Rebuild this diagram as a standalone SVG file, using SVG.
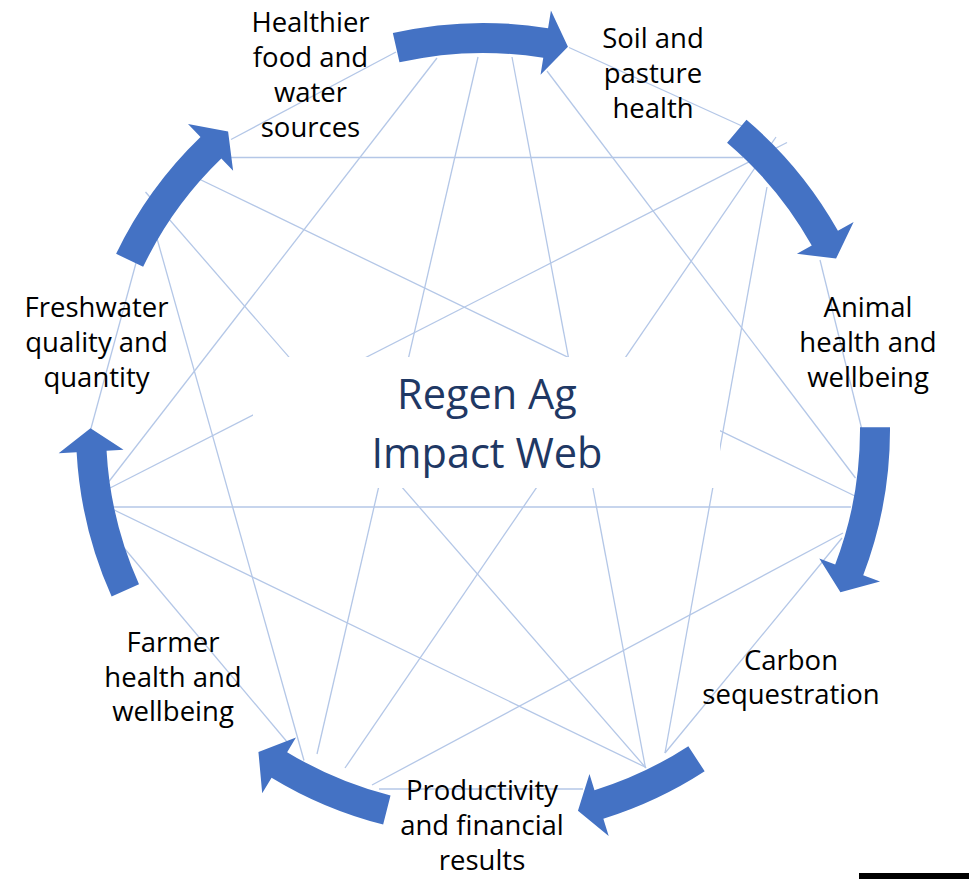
<svg xmlns="http://www.w3.org/2000/svg" width="969" height="879" viewBox="0 0 969 879">
<style>
.web{stroke:#B4C7E7;stroke-width:1.3;fill:none;stroke-linecap:butt}
.arrow{fill:#4472C4}
.label{font-family:"Open Sans","Liberation Sans",sans-serif;font-size:27.5px;fill:#000000;text-anchor:middle}
.title{font-family:"Open Sans","Liberation Sans",sans-serif;font-size:41.5px;fill:#1F3864;text-anchor:middle}
</style>
<rect x="0" y="0" width="969" height="879" fill="#FFFFFF"/>
<g id="connectors">
  <g id="web-lines">
    <line class="web" x1="231" y1="139.5" x2="396" y2="52"/>
    <line class="web" x1="230" y1="157.5" x2="743" y2="157.5"/>
    <line class="web" x1="198" y1="178.5" x2="855" y2="496"/>
    <line class="web" x1="145.5" y1="192" x2="646" y2="768"/>
    <line class="web" x1="157" y1="238.5" x2="304" y2="760.5"/>
    <line class="web" x1="136" y1="263" x2="90" y2="432"/>
    <line class="web" x1="437" y1="58" x2="107" y2="484"/>
    <line class="web" x1="478" y1="57" x2="317" y2="754"/>
    <line class="web" x1="512" y1="57" x2="645.5" y2="768"/>
    <line class="web" x1="547" y1="71" x2="855.5" y2="478"/>
    <line class="web" x1="569" y1="47.5" x2="742" y2="126"/>
    <line class="web" x1="787" y1="142.5" x2="110" y2="488"/>
    <line class="web" x1="776" y1="137" x2="345" y2="768"/>
    <line class="web" x1="767" y1="187" x2="665" y2="753"/>
    <line class="web" x1="820" y1="260" x2="862.5" y2="432"/>
    <line class="web" x1="112" y1="507" x2="851" y2="507"/>
    <line class="web" x1="843" y1="533" x2="372" y2="785"/>
    <line class="web" x1="842" y1="538" x2="665" y2="753"/>
    <line class="web" x1="379" y1="789" x2="583" y2="789"/>
    <line class="web" x1="111" y1="508.5" x2="645" y2="767"/>
    <line class="web" x1="122" y1="545.5" x2="288" y2="743"/>
  </g>
  <g id="cycle-arrows">
    <path class="arrow" d="M392.83,33.11 A407,407 0 0 1 548.07,28.23 L550.95,10.47 L567.95,46.80 L540.56,74.63 L543.27,57.85 A377,377 0 0 0 399.48,62.37 Z"/>
    <path class="arrow" d="M746.48,119.80 A407,407 0 0 1 837.93,230.82 L853.63,222.01 L836.08,258.56 L796.95,253.82 L811.77,245.50 A377,377 0 0 0 727.06,142.66 Z"/>
    <path class="arrow" d="M890.00,427.16 A407,407 0 0 1 863.22,575.19 L880.04,581.61 L840.44,592.14 L819.31,558.43 L835.19,564.49 A377,377 0 0 0 860.00,427.37 Z"/>
    <path class="arrow" d="M704.67,771.34 A407,407 0 0 1 603.35,818.80 L608.68,835.99 L577.95,810.84 L589.46,773.90 L594.48,790.14 A377,377 0 0 0 688.33,746.18 Z"/>
    <path class="arrow" d="M383.16,824.57 A407,407 0 0 1 271.56,777.77 L262.20,793.15 L258.43,751.91 L295.97,737.61 L287.14,752.13 A377,377 0 0 0 390.52,795.48 Z"/>
    <path class="arrow" d="M111.62,596.49 A407,407 0 0 1 76.61,452.36 L58.64,453.35 L90.50,428.29 L123.54,449.78 L106.57,450.72 A377,377 0 0 0 139.00,584.22 Z"/>
    <path class="arrow" d="M116.11,253.82 A407,407 0 0 1 200.49,137.02 L188.00,124.06 L228.09,131.54 L233.12,170.85 L221.32,158.61 A377,377 0 0 0 143.15,266.81 Z"/>
  </g>
</g>
<g id="title">
  <rect x="253" y="357" width="467" height="131" fill="#FFFFFF"/>
  <text class="title"><tspan x="487" y="408.5">Regen Ag</tspan><tspan x="487" y="468">Impact Web</tspan></text>
</g>
<g id="node-healthier-food">
  <text class="label"><tspan x="310.5" y="31.7">Healthier</tspan><tspan x="310.5" y="66.7">food and</tspan><tspan x="310.5" y="101.7">water</tspan><tspan x="310.5" y="136.7">sources</tspan></text>
</g>
<g id="node-soil">
  <text class="label"><tspan x="653" y="48.3">Soil and</tspan><tspan x="653" y="83.3">pasture</tspan><tspan x="653" y="118.3">health</tspan></text>
</g>
<g id="node-animal">
  <text class="label"><tspan x="868" y="316.7">Animal</tspan><tspan x="868" y="351.7">health and</tspan><tspan x="868" y="386.7">wellbeing</tspan></text>
</g>
<g id="node-carbon">
  <text class="label"><tspan x="791" y="669.5">Carbon</tspan><tspan x="791" y="704">sequestration</tspan></text>
</g>
<g id="node-productivity">
  <text class="label"><tspan x="482" y="800">Productivity</tspan><tspan x="482" y="835">and financial</tspan><tspan x="482" y="869.5">results</tspan></text>
</g>
<g id="node-farmer">
  <text class="label"><tspan x="173" y="651.7">Farmer</tspan><tspan x="173" y="686.5">health and</tspan><tspan x="173" y="721">wellbeing</tspan></text>
</g>
<g id="node-freshwater">
  <text class="label"><tspan x="96.5" y="316.7">Freshwater</tspan><tspan x="96.5" y="351.7">quality and</tspan><tspan x="96.5" y="386.7">quantity</tspan></text>
</g>
<rect x="859" y="873" width="110" height="6" fill="#000000"/>
</svg>
